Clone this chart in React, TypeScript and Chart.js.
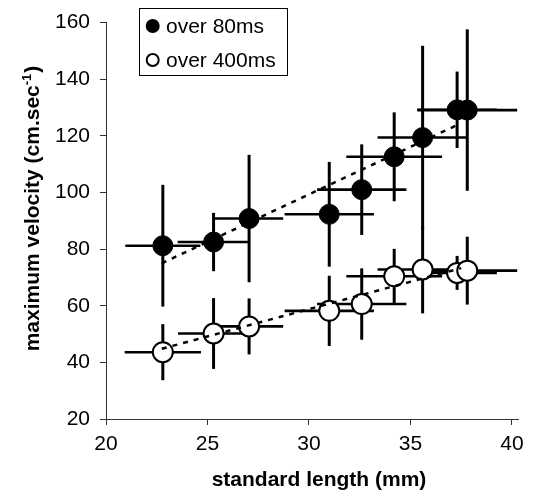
import React, { useEffect, useRef } from "react";
import { Chart, registerables } from "chart.js";

Chart.register(...registerables);

const FONT = "'Liberation Sans', Arial, Helvetica, sans-serif";

// ---- data ----
const seriesLabels = ["over 80ms", "over 400ms"];

const length80 = [22.8, 25.3, 27.05, 31.0, 32.6, 34.2, 35.6, 37.3, 37.8];
const lengthErr80 = [1.85, 1.77, 1.68, 2.2, 2.2, 2.36, 2.22, 1.96, 2.46];
const velocity80 = [81.2, 82.5, 90.8, 92.3, 101.0, 112.6, 119.4, 129.2, 129.1];
const velocityErr80 = [21.5, 10.3, 22.5, 18.5, 16.0, 15.7, 32.4, 13.5, 28.5];

const length400 = [22.8, 25.3, 27.05, 31.0, 32.6, 34.2, 35.6, 37.3, 37.8];
const lengthErr400 = [1.88, 1.75, 1.68, 2.2, 2.2, 2.36, 2.22, 1.96, 2.46];
const velocity400 = [43.6, 50.2, 52.7, 58.2, 60.6, 70.4, 72.8, 71.6, 72.4];
const velocityErr400 = [9.9, 12.5, 9.9, 12.4, 12.6, 9.7, 15.5, 6.0, 12.0];

const trend80X = [22.75, 37.3];
const trend80Y = [75.0, 123.8];
const trend400X = [22.75, 37.5];
const trend400Y = [44.8, 73.3];

const xTicks = [20, 25, 30, 35, 40];
const yTicks = [20, 40, 60, 80, 100, 120, 140, 160];

const xTitle = "standard length (mm)";
const yTitleMain = "maximum velocity (cm.sec";
const yTitleSup = "-1";
const yTitleEnd = ")";

const toPoints = (xs: number[], ys: number[]) => xs.map((x, i) => ({ x, y: ys[i] }));

const errorBarPlugin = {
  id: "errorBars",
  beforeDatasetsDraw(chart: any) {
    const { ctx, scales } = chart;
    const xs = scales.x;
    const ys = scales.y;
    ctx.save();
    ctx.strokeStyle = "#000";
    ctx.lineCap = "butt";
    chart.data.datasets.forEach((ds: any) => {
      if (!ds.errX) return;
      ds.data.forEach((p: any, i: number) => {
        const px = xs.getPixelForValue(p.x);
        const py = ys.getPixelForValue(p.y);
        // horizontal
        ctx.lineWidth = 2.6;
        ctx.beginPath();
        ctx.moveTo(xs.getPixelForValue(p.x - ds.errX[i]), py);
        ctx.lineTo(xs.getPixelForValue(p.x + ds.errX[i]), py);
        ctx.stroke();
        // vertical
        ctx.lineWidth = 3;
        ctx.beginPath();
        ctx.moveTo(px, ys.getPixelForValue(p.y - ds.errY[i]));
        ctx.lineTo(px, ys.getPixelForValue(p.y + ds.errY[i]));
        ctx.stroke();
      });
    });
    ctx.restore();
  },
};

const decorPlugin = {
  id: "decor",
  afterDraw(chart: any) {
    const { ctx } = chart;
    ctx.save();
    // legend box
    const bx = 139.5, by = 8.5, bw = 148, bh = 67;
    ctx.fillStyle = "#fff";
    ctx.fillRect(bx, by, bw, bh);
    ctx.strokeStyle = "#000";
    ctx.lineWidth = 1;
    ctx.strokeRect(bx, by, bw, bh);
    const rows = [26, 60];
    chart.data.datasets
      .filter((d: any) => d.inLegend)
      .forEach((d: any, i: number) => {
        const cy = rows[i];
        ctx.beginPath();
        ctx.arc(152.7, cy, d.legendFilled ? 7 : 6, 0, Math.PI * 2);
        if (d.legendFilled) {
          ctx.fillStyle = "#000";
          ctx.fill();
        } else {
          ctx.fillStyle = "#fff";
          ctx.fill();
          ctx.lineWidth = 2;
          ctx.strokeStyle = "#000";
          ctx.stroke();
        }
        ctx.fillStyle = "#000";
        ctx.font = `21px ${FONT}`;
        ctx.textAlign = "left";
        ctx.textBaseline = "middle";
        ctx.fillText(d.label, 166, cy + 1);
      });

    // x title
    ctx.font = `bold 21px ${FONT}`;
    ctx.fillStyle = "#000";
    ctx.textAlign = "center";
    ctx.textBaseline = "alphabetic";
    ctx.fillText(xTitle, 319, 486);

    // y title with superscript
    ctx.translate(39, 209);
    ctx.rotate(-Math.PI / 2);
    ctx.textAlign = "left";
    const mainFont = `bold 21px ${FONT}`;
    const supFont = `bold 13px ${FONT}`;
    ctx.font = mainFont;
    const w1 = ctx.measureText(yTitleMain).width;
    const w3 = ctx.measureText(yTitleEnd).width;
    ctx.font = supFont;
    const w2 = ctx.measureText(yTitleSup).width;
    const start = -(w1 + w2 + w3) / 2;
    ctx.font = mainFont;
    ctx.fillText(yTitleMain, start, 0);
    ctx.font = supFont;
    ctx.fillText(yTitleSup, start + w1, -8);
    ctx.font = mainFont;
    ctx.fillText(yTitleEnd, start + w1 + w2 + 1, 0);
    ctx.restore();
  },
};

export default function App() {
  const ref = useRef<HTMLCanvasElement | null>(null);

  useEffect(() => {
    if (!ref.current) return;
    const chart = new Chart(ref.current, {
      type: "scatter",
      data: {
        datasets: [
          {
            type: "line",
            label: "trend 80",
            data: toPoints(trend80X, trend80Y),
            borderColor: "#000",
            borderWidth: 2.5,
            borderDash: [5, 6],
            pointRadius: 0,
            showLine: true,
            fill: false,
            order: 0,
          } as any,
          {
            type: "line",
            label: "trend 400",
            data: toPoints(trend400X, trend400Y),
            borderColor: "#000",
            borderWidth: 2.5,
            borderDash: [5, 6],
            pointRadius: 0,
            showLine: true,
            fill: false,
            order: 0,
          } as any,
          {
            label: seriesLabels[0],
            data: toPoints(length80, velocity80),
            errX: lengthErr80,
            errY: velocityErr80,
            inLegend: true,
            legendFilled: true,
            pointRadius: 10,
            pointHoverRadius: 10,
            backgroundColor: "#000",
            borderColor: "#000",
            borderWidth: 1,
            order: 1,
          } as any,
          {
            label: seriesLabels[1],
            data: toPoints(length400, velocity400),
            errX: lengthErr400,
            errY: velocityErr400,
            inLegend: true,
            legendFilled: false,
            pointRadius: 10,
            pointHoverRadius: 10,
            backgroundColor: "#fff",
            borderColor: "#000",
            borderWidth: 2,
            order: 1,
          } as any,
        ],
      },
      options: {
        animation: false,
        responsive: false,
        devicePixelRatio: 1,
        layout: { padding: { top: 19, right: 15, bottom: 0, left: 0 } },
        plugins: {
          legend: { display: false },
          tooltip: { enabled: false },
          title: { display: false },
        },
        scales: {
          x: {
            type: "linear",
            min: 20,
            max: 40.3,
            afterBuildTicks: (s: any) => {
              s.ticks = xTicks.map((v) => ({ value: v }));
            },
            afterFit: (s: any) => {
              s.height = 81;
            },
            ticks: {
              color: "#000",
              font: { family: FONT, size: 21 },
              padding: 7,
              maxRotation: 0,
              autoSkip: false,
            },
            grid: { drawOnChartArea: false, tickLength: 6, color: "#333", lineWidth: 1 },
            border: { color: "#333", width: 1 },
          },
          y: {
            type: "linear",
            min: 20,
            max: 160,
            afterBuildTicks: (s: any) => {
              s.ticks = yTicks.map((v) => ({ value: v }));
            },
            afterFit: (s: any) => {
              s.width = 106;
            },
            ticks: {
              color: "#000",
              font: { family: FONT, size: 21 },
              padding: 10,
              autoSkip: false,
            },
            grid: { drawOnChartArea: false, tickLength: 6, color: "#333", lineWidth: 1 },
            border: { color: "#333", width: 1 },
          },
        },
      } as any,
      plugins: [errorBarPlugin, decorPlugin],
    });
    return () => chart.destroy();
  }, []);

  return (
    <div style={{ position: "fixed", left: 0, top: 0, width: 533, height: 500, background: "#fff" }}>
      <canvas ref={ref} width={533} height={500} />
    </div>
  );
}
